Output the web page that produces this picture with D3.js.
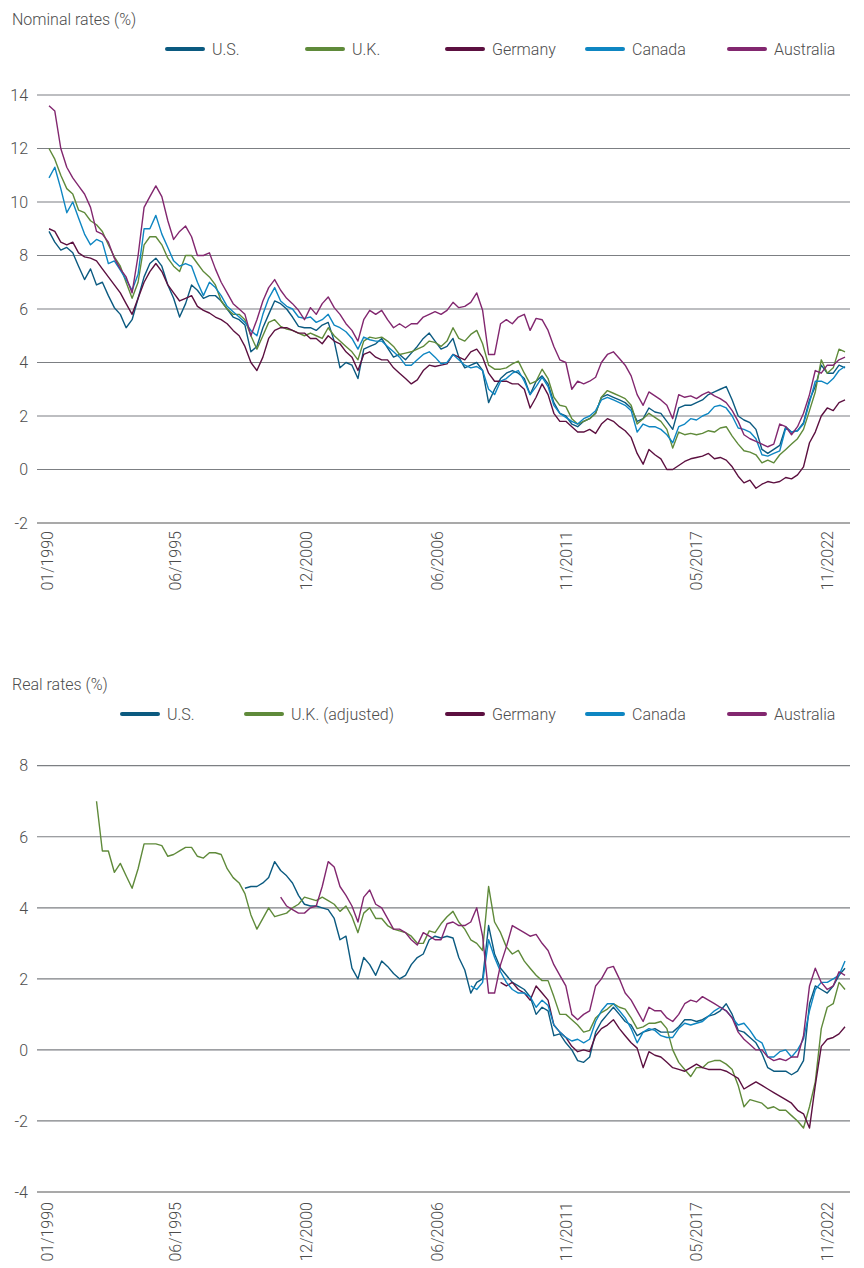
<!DOCTYPE html>
<html>
<head>
<meta charset="utf-8">
<script src="https://cdn.jsdelivr.net/npm/d3@7"></script>
<style>
  body { margin: 0; background: #fff; }
  text { font-family: Roboto, "Noto Sans", sans-serif; font-weight: 300; fill: #4d4d4d; }
</style>
</head>
<body>
<svg id="chart" width="864" height="1268"></svg>
<script>
// quarterly observations, Feb 1990 .. Aug 2023 (135 points)
var dates = d3.timeMonth.range(new Date(1990, 1, 1), new Date(2023, 8, 1), 3);
var tickDates = [new Date(1990, 0, 1), new Date(1995, 5, 1), new Date(2000, 11, 1),
  new Date(2006, 5, 1), new Date(2011, 10, 1), new Date(2017, 4, 1), new Date(2022, 10, 1)];

var nominalLabels = ['U.S.', 'U.K.', 'Germany', 'Canada', 'Australia'];
var realLabels = ['U.S.', 'U.K. (adjusted)', 'Germany', 'Canada', 'Australia'];
var colors = ['#0b5a80', '#5f8a3a', '#5c1040', '#0e86c2', '#82276f'];

var nominalTicks = [-2, 0, 2, 4, 6, 8, 10, 12, 14];
var realTicks = [-4, -2, 0, 2, 4, 6, 8];

// nominal 10y yields (%)
var nomUS = [8.9, 8.5, 8.2, 8.3, 8.1, 7.6, 7.1, 7.5, 6.9, 7.0, 6.5, 6.05, 5.8, 5.3, 5.6, 6.4, 7.2, 7.7, 7.9, 7.6,
  6.9, 6.4, 5.7, 6.2, 6.9, 6.7, 6.4, 6.5, 6.5, 6.3, 6.0, 5.7, 5.6, 5.4, 4.4, 4.6, 5.3, 5.8, 6.3, 6.2,
  6.0, 5.7, 5.35, 5.3, 5.3, 5.2, 5.4, 5.5, 4.8, 3.8, 4.0, 3.9, 3.4, 4.5, 4.6, 4.7, 4.9, 4.55, 4.2, 4.3,
  4.1, 4.35, 4.6, 4.9, 5.1, 4.8, 4.5, 4.6, 4.9, 4.2, 3.8, 3.9, 4.0, 3.7, 2.5, 3.0, 3.4, 3.6, 3.7, 3.6,
  3.4, 2.8, 3.3, 3.5, 3.2, 2.5, 2.1, 2.0, 1.7, 1.6, 1.8, 1.9, 2.1, 2.7, 2.8, 2.7, 2.6, 2.5, 2.3, 1.8,
  1.9, 2.3, 2.15, 2.1, 1.8, 1.5, 2.3, 2.4, 2.4, 2.5, 2.6, 2.8, 2.9, 3.0, 3.1, 2.6, 2.0, 1.85, 1.75, 1.5,
  0.75, 0.6, 0.75, 0.9, 1.6, 1.4, 1.45, 1.75, 2.6, 3.1, 3.9, 3.6, 3.6, 3.9, 3.8];
var nomUK = [12.0, 11.6, 11.0, 10.5, 10.3, 9.7, 9.6, 9.3, 9.15, 8.9, 8.4, 7.95, 7.6, 7.0, 6.4, 7.0, 8.4, 8.7, 8.7, 8.4,
  7.9, 7.6, 7.4, 8.0, 8.0, 7.7, 7.4, 7.2, 6.9, 6.3, 6.0, 5.8, 5.8, 5.6, 5.0, 4.5, 5.0, 5.5, 5.6, 5.35,
  5.25, 5.2, 5.1, 5.0, 5.1, 5.0, 4.9, 5.3, 5.0, 4.8, 4.6, 4.4, 4.1, 4.8, 4.95, 4.9, 4.95, 4.8, 4.6, 4.3,
  4.35, 4.4, 4.5, 4.6, 4.8, 4.75, 4.6, 4.8, 5.3, 4.9, 4.8, 5.05, 5.2, 4.7, 3.9, 3.75, 3.75, 3.8, 3.95, 4.05,
  3.6, 3.2, 3.3, 3.75, 3.4, 2.7, 2.4, 2.35, 1.9, 1.7, 1.8, 1.9, 2.1, 2.7, 2.95, 2.85, 2.75, 2.65, 2.4, 1.7,
  1.9, 2.1, 1.95, 1.8, 1.5, 0.8, 1.4, 1.3, 1.35, 1.3, 1.35, 1.45, 1.4, 1.55, 1.6, 1.25, 0.95, 0.7, 0.65, 0.55,
  0.25, 0.35, 0.25, 0.55, 0.75, 0.95, 1.15, 1.5, 2.2, 2.9, 4.1, 3.6, 3.8, 4.5, 4.4];
var nomDE = [9.0, 8.9, 8.5, 8.4, 8.5, 8.1, 7.95, 7.9, 7.8, 7.5, 7.2, 6.9, 6.6, 6.2, 5.8, 6.4, 7.0, 7.4, 7.7, 7.4,
  6.9, 6.6, 6.3, 6.4, 6.5, 6.1, 5.95, 5.85, 5.7, 5.6, 5.45, 5.2, 5.0, 4.6, 4.0, 3.7, 4.2, 4.9, 5.2, 5.3,
  5.3, 5.2, 5.1, 5.1, 4.9, 4.9, 4.7, 5.0, 4.8, 4.7, 4.4, 4.2, 3.7, 4.3, 4.4, 4.2, 4.1, 4.1, 3.8, 3.6,
  3.4, 3.2, 3.35, 3.7, 3.9, 3.85, 3.9, 3.95, 4.3, 4.2, 4.1, 4.4, 4.5, 4.2, 3.6, 3.3, 3.3, 3.3, 3.2, 3.2,
  3.0, 2.3, 2.7, 3.2, 2.8, 2.1, 1.8, 1.8, 1.6, 1.4, 1.4, 1.5, 1.35, 1.7, 1.9, 1.8, 1.6, 1.45, 1.2, 0.6,
  0.2, 0.75, 0.55, 0.4, 0.0, 0.0, 0.15, 0.3, 0.4, 0.45, 0.5, 0.6, 0.4, 0.45, 0.35, 0.1, -0.25, -0.5, -0.4, -0.7,
  -0.55, -0.45, -0.5, -0.45, -0.3, -0.35, -0.2, 0.1, 1.0, 1.4, 2.0, 2.3, 2.2, 2.5, 2.6];
var nomCA = [10.9, 11.3, 10.5, 9.6, 10.0, 9.4, 8.8, 8.4, 8.6, 8.5, 7.7, 7.8, 7.45, 7.1, 6.7, 7.3, 9.0, 9.0, 9.5, 8.8,
  8.3, 7.8, 7.6, 7.7, 7.6, 7.0, 6.5, 7.0, 6.8, 6.5, 6.1, 5.9, 5.7, 5.5, 5.2, 5.0, 5.8, 6.4, 6.8, 6.3,
  6.1, 6.0, 5.7, 5.65, 5.7, 5.5, 5.6, 5.8, 5.4, 5.3, 5.15, 4.9, 4.5, 4.95, 4.85, 4.8, 4.8, 4.6, 4.4, 4.2,
  3.9, 3.9, 4.1, 4.3, 4.4, 4.2, 3.95, 4.0, 4.3, 4.1, 3.9, 3.8, 3.85, 3.7, 3.0, 2.8, 3.3, 3.4, 3.6, 3.7,
  3.3, 2.8, 3.1, 3.45, 3.1, 2.4, 2.1, 1.95, 1.8, 1.7, 1.9, 2.0, 2.2, 2.6, 2.7, 2.6, 2.5, 2.4, 2.2, 1.4,
  1.7, 1.6, 1.6, 1.5, 1.3, 1.0, 1.6, 1.7, 1.9, 1.85, 2.0, 2.1, 2.35, 2.4, 2.3, 2.0, 1.55, 1.5, 1.4, 1.15,
  0.55, 0.5, 0.6, 0.7, 1.55, 1.4, 1.45, 1.7, 2.5, 3.3, 3.3, 3.2, 3.4, 3.7, 3.85];
var nomAU = [13.6, 13.4, 12.0, 11.3, 10.9, 10.6, 10.3, 9.8, 8.9, 8.8, 8.5, 7.9, 7.5, 7.2, 6.6, 8.0, 9.8, 10.2, 10.6, 10.2,
  9.3, 8.6, 8.9, 9.1, 8.7, 8.0, 8.0, 8.1, 7.5, 7.0, 6.6, 6.2, 6.0, 5.8, 5.0, 5.6, 6.3, 6.8, 7.1, 6.7,
  6.4, 6.2, 5.95, 5.6, 6.05, 5.8, 6.2, 6.45, 6.05, 5.8, 5.45, 5.2, 4.8, 5.6, 5.95, 5.8, 5.95, 5.6, 5.3, 5.45,
  5.3, 5.45, 5.45, 5.7, 5.8, 5.9, 5.8, 5.95, 6.25, 6.05, 6.1, 6.25, 6.6, 5.95, 4.3, 4.3, 5.45, 5.6, 5.45, 5.7,
  5.8, 5.2, 5.65, 5.6, 5.2, 4.6, 4.1, 4.0, 3.0, 3.3, 3.2, 3.3, 3.45, 4.0, 4.3, 4.4, 4.15, 3.9, 3.5, 2.8,
  2.4, 2.9, 2.75, 2.6, 2.4, 1.9, 2.8, 2.7, 2.75, 2.65, 2.8, 2.9, 2.75, 2.65, 2.5, 2.2, 1.8, 1.3, 1.15, 1.05,
  0.95, 0.85, 0.95, 1.7, 1.6, 1.3, 1.6, 2.1, 2.8, 3.7, 3.6, 3.9, 3.9, 4.1, 4.2];

// real yields (%), each series starts at a later observation index
var realStart = [33, 8, 76, 71, 39];
var realUS = [4.55, 4.6, 4.6, 4.7, 4.85, 5.3, 5.05, 4.9, 4.7, 4.35, 4.1, 4.05, 4.05, 4.0, 3.95, 3.7,
  3.1, 3.2, 2.3, 2.0, 2.6, 2.4, 2.1, 2.5, 2.35, 2.15, 2.0, 2.1, 2.4, 2.6, 2.7, 3.1, 3.2, 3.15, 3.2, 3.15,
  2.6, 2.25, 1.6, 1.9, 2.0, 3.5, 2.7, 2.3, 2.1, 1.9, 1.8, 1.7, 1.5, 1.0, 1.2, 1.1, 0.4,
  0.45, 0.2, 0.0, -0.3, -0.35, -0.2, 0.5, 0.8, 1.0, 1.2, 1.0, 0.8, 0.7, 0.4, 0.5, 0.55, 0.6, 0.5, 0.5, 0.5,
  0.65, 0.85, 0.85, 0.8, 0.85, 0.95, 1.0, 1.1, 1.3, 1.0, 0.55, 0.5, 0.35, 0.2, -0.1, -0.5, -0.6, -0.6, -0.6,
  -0.7, -0.6, -0.3, 1.3, 1.8, 1.7, 1.6, 1.8, 2.1, 2.3];
var realUK = [7.0, 5.6, 5.6, 5.0, 5.25, 4.9, 4.55, 5.1, 5.8, 5.8, 5.8, 5.75, 5.45, 5.5, 5.6, 5.7, 5.7, 5.45,
  5.4, 5.55, 5.55, 5.5, 5.1, 4.85, 4.7, 4.4, 3.8, 3.4, 3.7, 4.0, 3.75, 3.8, 3.85, 4.0, 4.1, 4.3, 4.25, 4.2,
  4.3, 4.2, 4.1, 3.9, 4.05, 3.75, 3.3, 3.85, 4.0, 3.7, 3.7, 3.5, 3.4, 3.35, 3.3, 3.2, 3.0, 3.0, 3.35, 3.3,
  3.55, 3.75, 3.9, 3.6, 3.4, 3.1, 3.0, 2.8, 4.6, 3.6, 3.3, 2.9, 2.7, 2.8, 2.5, 2.3, 2.1, 1.95, 1.95, 1.5,
  1.0, 1.0, 0.85, 0.7, 0.5, 0.55, 0.9, 1.05, 1.15, 1.3, 1.2, 1.15, 0.9, 0.6, 0.65, 0.75, 0.75, 0.8, 0.6, 0.0,
  -0.35, -0.55, -0.75, -0.5, -0.5, -0.35, -0.3, -0.3, -0.4, -0.55, -1.0, -1.6, -1.4, -1.45, -1.5, -1.65, -1.6,
  -1.7, -1.7, -1.85, -2.0, -2.2, -1.6, -0.9, 0.6, 1.2, 1.3, 1.9, 1.7];
var realDE = [1.9, 1.8, 1.9, 1.7, 1.6, 1.4, 1.8, 1.6, 1.4, 0.7,
  0.5, 0.35, 0.1, -0.05, 0.0, -0.05, 0.4, 0.6, 0.7, 0.85, 0.6, 0.4, 0.2, 0.05, -0.5, -0.05, -0.15, -0.2,
  -0.35, -0.5, -0.55, -0.6, -0.5, -0.4, -0.5, -0.55, -0.55, -0.55, -0.6, -0.7, -0.8, -1.1, -1.0, -0.9, -1.0,
  -1.1, -1.2, -1.3, -1.4, -1.5, -1.7, -1.8, -2.2, -1.0, 0.1, 0.3, 0.35, 0.45, 0.65];
var realCA = [1.8, 1.7, 1.9, 3.1, 2.6, 2.2, 1.9, 1.7, 1.6, 1.6, 1.5, 1.2, 1.4, 1.25, 0.7,
  0.5, 0.35, 0.25, 0.3, 0.2, 0.3, 0.8, 1.1, 1.3, 1.3, 1.1, 0.9, 0.6, 0.2, 0.5, 0.6, 0.55, 0.4, 0.35, 0.35,
  0.6, 0.75, 0.7, 0.75, 0.8, 0.95, 1.1, 1.2, 1.1, 0.9, 0.7, 0.75, 0.55, 0.3, 0.2, -0.2, -0.2, -0.05, 0.0,
  -0.2, 0.0, 0.3, 1.1, 1.7, 1.9, 1.9, 2.0, 2.1, 2.5];
var realAU = [4.3, 4.05, 3.95, 3.85, 3.85, 4.0, 4.05, 4.6, 5.3, 5.15, 4.6,
  4.35, 4.05, 3.6, 4.3, 4.5, 4.1, 4.0, 3.7, 3.4, 3.4, 3.3, 3.1, 2.95, 3.3, 3.2, 3.1, 3.1, 3.55, 3.6, 3.5,
  3.5, 3.6, 4.0, 3.2, 1.6, 1.6, 2.4, 2.9, 3.5, 3.4, 3.3, 3.2, 3.25, 3.0, 2.8, 2.4,
  2.1, 1.8, 1.0, 0.85, 1.0, 1.1, 1.8, 2.0, 2.3, 2.35, 2.0, 1.6, 1.4, 1.1, 0.8, 1.2, 1.1, 1.1, 0.9, 0.8,
  1.0, 1.3, 1.4, 1.35, 1.5, 1.4, 1.3, 1.2, 1.1, 0.9, 0.5, 0.3, 0.15, 0.0, 0.0, -0.2, -0.3, -0.25, -0.3,
  -0.2, -0.2, 0.4, 1.8, 2.3, 1.9, 1.7, 1.8, 2.2, 2.1];

var svg = d3.select('#chart');

var x = d3.scaleTime()
    .domain([new Date(1990, 0, 1), new Date(2023, 6, 1)])
    .range([47, 843]);

var gridLeft = 37, gridRight = 850;

function toPoints(values, start) {
    return values.map(function(v, i) { return [dates[start + i], v]; });
}

function drawPanel(p) {
    var y = d3.scaleLinear().domain(p.domain).range(p.range);
    var g = svg.append('g');

    g.append('text')
        .attr('x', 12).attr('y', p.titleY)
        .style('font-size', '16px')
        .text(p.title);

    // legend
    p.labels.forEach(function(lab, i) {
        var lx = p.legendX[i];
        g.append('line')
            .attr('x1', lx).attr('x2', lx + 36)
            .attr('y1', p.legendY).attr('y2', p.legendY)
            .attr('stroke', colors[i]).attr('stroke-width', 4)
            .attr('stroke-linecap', 'round');
        g.append('text')
            .attr('x', lx + 45).attr('y', p.legendY).attr('dy', '0.36em')
            .style('font-size', '16px')
            .text(lab);
    });

    // gridlines + y labels
    p.ticks.forEach(function(t, i) {
        var isBase = i === 0;
        g.append('line')
            .attr('x1', gridLeft).attr('x2', gridRight)
            .attr('y1', y(t)).attr('y2', y(t))
            .attr('stroke', isBase ? '#a9a9a9' : '#7c7f83')
            .attr('stroke-width', isBase ? 2.2 : 1.2);
        g.append('text')
            .attr('x', 28).attr('y', y(t)).attr('dy', '0.36em')
            .attr('text-anchor', 'end')
            .style('font-size', '16px')
            .text(String(t));
    });

    // x labels, rotated
    tickDates.forEach(function(d) {
        g.append('text')
            .attr('transform', 'translate(' + x(d) + ',' + p.labelTop + ') rotate(-90)')
            .attr('text-anchor', 'end')
            .attr('dy', '0.36em')
            .style('font-size', '16px')
            .text(d3.timeFormat('%m/%Y')(d));
    });

    var line = d3.line()
        .x(function(d) { return x(d[0]); })
        .y(function(d) { return y(d[1]); });

    p.series.forEach(function(s, i) {
        g.append('path')
            .datum(toPoints(s, p.starts[i]))
            .attr('fill', 'none')
            .attr('stroke', colors[i])
            .attr('stroke-width', 1.4)
            .attr('stroke-linejoin', 'round')
            .attr('d', line);
    });
}

drawPanel({
    title: 'Nominal rates (%)', titleY: 25,
    labels: nominalLabels, legendY: 49, legendX: [167, 307, 447, 587, 729],
    domain: [-2, 14], range: [523, 95], ticks: nominalTicks,
    labelTop: 531,
    series: [nomUS, nomUK, nomDE, nomCA, nomAU], starts: [0, 0, 0, 0, 0]
});

drawPanel({
    title: 'Real rates (%)', titleY: 690,
    labels: realLabels, legendY: 714, legendX: [122, 246, 447, 587, 729],
    domain: [-4, 8], range: [1192, 765.7], ticks: realTicks,
    labelTop: 1202,
    series: [realUS, realUK, realDE, realCA, realAU], starts: realStart
});
</script>
</body>
</html>
